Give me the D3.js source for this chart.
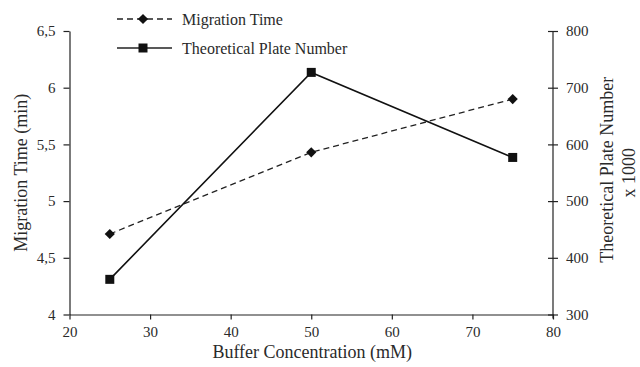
<!DOCTYPE html>
<html><head><meta charset="utf-8">
<script src="https://cdn.jsdelivr.net/npm/d3@7"></script>
<style>
body{margin:0;background:#fff;}
svg{display:block;font-family:"Liberation Serif","Times New Roman",serif;}
</style></head>
<body><svg id="c" width="640" height="367"></svg>
<script>
const concentrations = [25, 50, 75];
const migrationTime = [4.71, 5.43, 5.90];
const plateNumber = [362, 727, 577];
const xTicks = [20, 30, 40, 50, 60, 70, 80];
const yLeftTicks = [4, 4.5, 5, 5.5, 6, 6.5];
const yRightTicks = [300, 400, 500, 600, 700, 800];
const seriesNames = ["Migration Time", "Theoretical Plate Number"];

const svg = d3.select("#c");
const ink = "#222", txt = "#2a2a2a";
const L = 69.5, R = 553, T = 31, B = 314.5;
const x = d3.scaleLinear().domain([20, 80]).range([L, R]);
const yL = d3.scaleLinear().domain([4, 6.5]).range([B, T]);
const yR = d3.scaleLinear().domain([300, 800]).range([B, T]);
const fmt = d => String(d).replace(".", ",");

// axes
const gx = svg.append("g").attr("transform", `translate(0,${B})`)
  .call(d3.axisBottom(x).tickValues(xTicks).tickSize(5).tickPadding(7).tickSizeOuter(0));
const gl = svg.append("g").attr("transform", `translate(${L},0)`)
  .call(d3.axisLeft(yL).tickValues(yLeftTicks).tickFormat(fmt).tickSize(6).tickPadding(8).tickSizeOuter(0));
const gr = svg.append("g").attr("transform", `translate(${R},0)`)
  .call(d3.axisRight(yR).tickValues(yRightTicks).tickSize(5).tickPadding(8).tickSizeOuter(0));
gr.selectAll(".tick line").attr("x1", -5);
gr.select(".domain").attr("d", `M0,${T}V${B + 4}`);
[gx, gl, gr].forEach(g => {
  g.selectAll("path.domain, .tick line").attr("stroke", ink).attr("stroke-width", 1.2);
  g.selectAll("text").attr("fill", txt).style("font-size", "15px").style("font-family", "Liberation Serif");
});

// axis titles
svg.append("text").attr("x", (L + R) / 2 + 1).attr("y", 358).attr("text-anchor", "middle")
  .attr("fill", txt).style("font-size", "18px").text("Buffer Concentration (mM)");
svg.append("text").attr("transform", `translate(27,${(T + B) / 2}) rotate(-90)`).attr("text-anchor", "middle")
  .attr("fill", txt).style("font-size", "18px").text("Migration Time (min)");
svg.append("text").attr("transform", `translate(613,${(T + B) / 2 - 3}) rotate(-90)`).attr("text-anchor", "middle")
  .attr("fill", txt).style("font-size", "18px").text("Theoretical Plate Number");
svg.append("text").attr("transform", `translate(635,${(T + B) / 2}) rotate(-90)`).attr("text-anchor", "middle")
  .attr("fill", txt).style("font-size", "18px").text("x 1000");

// series
const mt = concentrations.map((c, i) => [c, migrationTime[i]]);
const pn = concentrations.map((c, i) => [c, plateNumber[i]]);
svg.append("path").datum(mt).attr("fill", "none").attr("stroke", ink).attr("stroke-width", 1.3)
  .attr("stroke-dasharray", "6,4").attr("d", d3.line().x(d => x(d[0])).y(d => yL(d[1])));
svg.append("path").datum(pn).attr("fill", "none").attr("stroke", "#111").attr("stroke-width", 1.6)
  .attr("d", d3.line().x(d => x(d[0])).y(d => yR(d[1])));
const diamond = d3.symbol().type(d3.symbolDiamond2).size(66);
const square = d3.symbol().type(d3.symbolSquare).size(81);
svg.selectAll(".dm").data(mt).join("path").attr("d", diamond)
  .attr("transform", d => `translate(${x(d[0])},${yL(d[1])})`).attr("fill", "#111");
svg.selectAll(".sq").data(pn).join("path").attr("d", square)
  .attr("transform", d => `translate(${x(d[0])},${yR(d[1])})`).attr("fill", "#111");

// legend
const lg = svg.append("g");
const rows = [{y: 19, dash: "6,4", sym: diamond}, {y: 48, dash: null, sym: square}];
rows.forEach((r, i) => {
  lg.append("line").attr("x1", 117).attr("x2", 172).attr("y1", r.y).attr("y2", r.y)
    .attr("stroke", ink).attr("stroke-width", i ? 1.6 : 1.3).attr("stroke-dasharray", r.dash);
  lg.append("path").attr("d", r.sym).attr("transform", `translate(143,${r.y})`).attr("fill", "#111");
  lg.append("text").attr("x", 182).attr("y", r.y + 5.5).attr("fill", txt)
    .style("font-size", "16px").text(seriesNames[i]);
});
</script></body></html>
